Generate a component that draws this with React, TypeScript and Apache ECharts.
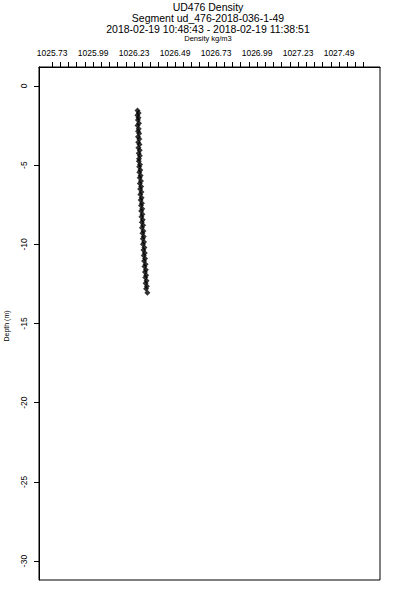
import React, { useEffect, useRef } from "react";
import * as echarts from "echarts";

const titleLines = [
  "UD476 Density",
  "Segment ud_476-2018-036-1-49",
  "2018-02-19 10:48:43 - 2018-02-19 11:38:51",
];
const xAxisTitle = "Density kg/m3";
const yAxisTitle = "Depth (m)";

const xTickValues = [
  1025.735, 1025.785, 1025.835, 1025.885, 1025.935, 1025.985, 1026.035, 1026.085,
  1026.135, 1026.185, 1026.235, 1026.285, 1026.335, 1026.385, 1026.435, 1026.485,
  1026.535, 1026.585, 1026.635, 1026.685, 1026.735, 1026.785, 1026.835, 1026.885,
  1026.935, 1026.985, 1027.035, 1027.085, 1027.135, 1027.185, 1027.235, 1027.285,
  1027.335, 1027.385, 1027.435, 1027.485, 1027.535, 1027.585, 1027.635,
];
const xLabelValues = [1025.735, 1025.985, 1026.235, 1026.485, 1026.735, 1026.985, 1027.235, 1027.485];
const xLabelTexts = ["1025.73", "1025.99", "1026.23", "1026.49", "1026.73", "1026.99", "1027.23", "1027.49"];
const yTickValues = [0, -5, -10, -15, -20, -25, -30];

const depth = [
  -1.55, -1.7, -1.85, -2.0, -2.15, -2.35, -2.5, -2.7, -2.85, -3.0, -3.2, -3.35, -3.55, -3.7,
  -3.9, -4.05, -4.25, -4.4, -4.6, -4.75, -4.95, -5.1, -5.3, -5.45, -5.65, -5.8, -6.0, -6.15,
  -6.35, -6.5, -6.7, -6.85, -7.05, -7.2, -7.4, -7.55, -7.75, -7.9, -8.1, -8.25, -8.45, -8.6,
  -8.8, -8.95, -9.15, -9.3, -9.5, -9.65, -9.85, -10.0, -10.2, -10.35, -10.55, -10.7, -10.9,
  -11.05, -11.25, -11.4, -11.6, -11.75, -11.95, -12.1, -12.3, -12.45, -12.65, -12.8, -13.05,
];
const density = [
  1026.256, 1026.263, 1026.255, 1026.262, 1026.258, 1026.265, 1026.256, 1026.263, 1026.259, 1026.266,
  1026.259, 1026.267, 1026.260, 1026.268, 1026.261, 1026.269, 1026.263, 1026.270, 1026.265, 1026.264,
  1026.271, 1026.266, 1026.273, 1026.267, 1026.275, 1026.269, 1026.277, 1026.270, 1026.278, 1026.272,
  1026.280, 1026.273, 1026.281, 1026.275, 1026.283, 1026.277, 1026.285, 1026.278, 1026.286, 1026.280,
  1026.288, 1026.282, 1026.290, 1026.283, 1026.292, 1026.286, 1026.294, 1026.288, 1026.296, 1026.289,
  1026.298, 1026.292, 1026.300, 1026.294, 1026.302, 1026.296, 1026.305, 1026.298, 1026.307, 1026.301,
  1026.309, 1026.303, 1026.311, 1026.305, 1026.313, 1026.308, 1026.316,
];

const FONT = "Liberation Sans, Arial, Helvetica, sans-serif";

export default function App() {
  const ref = useRef<HTMLDivElement>(null);
  useEffect(() => {
    if (!ref.current) return;
    const chart = echarts.init(ref.current, null, { renderer: "svg" });
    const points = depth.map((d, i) => [density[i], d]);
    const titleY = [7, 17.5, 28.5];
    chart.setOption({
      animation: false,
      backgroundColor: "#ffffff",
      grid: {
        left: 39,
        top: 67,
        width: 341,
        height: 513,
        show: true,
        borderColor: "#000",
        borderWidth: 1,
        backgroundColor: "transparent",
      },
      xAxis: {
        type: "value",
        position: "top",
        min: 1025.655,
        max: 1027.735,
        axisLine: { show: true, onZero: false, lineStyle: { color: "#000", width: 1 } },
        axisTick: {
          show: true,
          inside: false,
          customValues: xTickValues,
          length: 5,
          lineStyle: { color: "#000", width: 1 },
        },
        axisLabel: {
          customValues: xLabelValues,
          color: "#000",
          fontSize: 8.5,
          fontFamily: FONT,
          margin: 10,
          formatter: (v: number) => {
            const i = xLabelValues.findIndex((x) => Math.abs(x - v) < 1e-6);
            return i >= 0 ? xLabelTexts[i] : "";
          },
        },
        splitLine: { show: false },
      },
      yAxis: {
        type: "value",
        min: -31.2,
        max: 1.2,
        axisLine: { show: true, onZero: false, lineStyle: { color: "#000", width: 1 } },
        axisTick: {
          show: true,
          inside: false,
          customValues: yTickValues,
          length: 5,
          lineStyle: { color: "#000", width: 1 },
        },
        axisLabel: {
          customValues: yTickValues,
          color: "#000",
          fontSize: 8.5,
          fontFamily: FONT,
          rotate: 90,
          margin: 11,
          formatter: (v: number) => String(v),
        },
        splitLine: { show: false },
      },
      series: [
        {
          type: "scatter",
          data: points,
          symbol: "diamond",
          symbolSize: 6,
          itemStyle: { color: "#000" },
        },
      ],
      graphic: [
        ...titleLines.map((t, i) => ({
          type: "text",
          x: 208,
          y: titleY[i],
          style: {
            text: t,
            font: `10.5px ${FONT}`,
            fill: "#000",
            align: "center",
            verticalAlign: "middle",
            textAlign: "center",
            textVerticalAlign: "middle",
          },
        })),
        {
          type: "text",
          x: 208,
          y: 38.5,
          style: {
            text: xAxisTitle,
            font: `7.5px ${FONT}`,
            fill: "#000",
            align: "center",
            verticalAlign: "middle",
            textAlign: "center",
            textVerticalAlign: "middle",
          },
        },
        {
          type: "text",
          x: 6,
          y: 326,
          rotation: Math.PI / 2,
          style: {
            text: yAxisTitle,
            font: `7px ${FONT}`,
            fill: "#000",
            align: "center",
            verticalAlign: "middle",
            textAlign: "center",
            textVerticalAlign: "middle",
          },
        },
      ],
    });
    return () => chart.dispose();
  }, []);
  return (
    <div
      ref={ref}
      style={{ position: "absolute", left: 0, top: 0, width: 400, height: 600 }}
    />
  );
}
